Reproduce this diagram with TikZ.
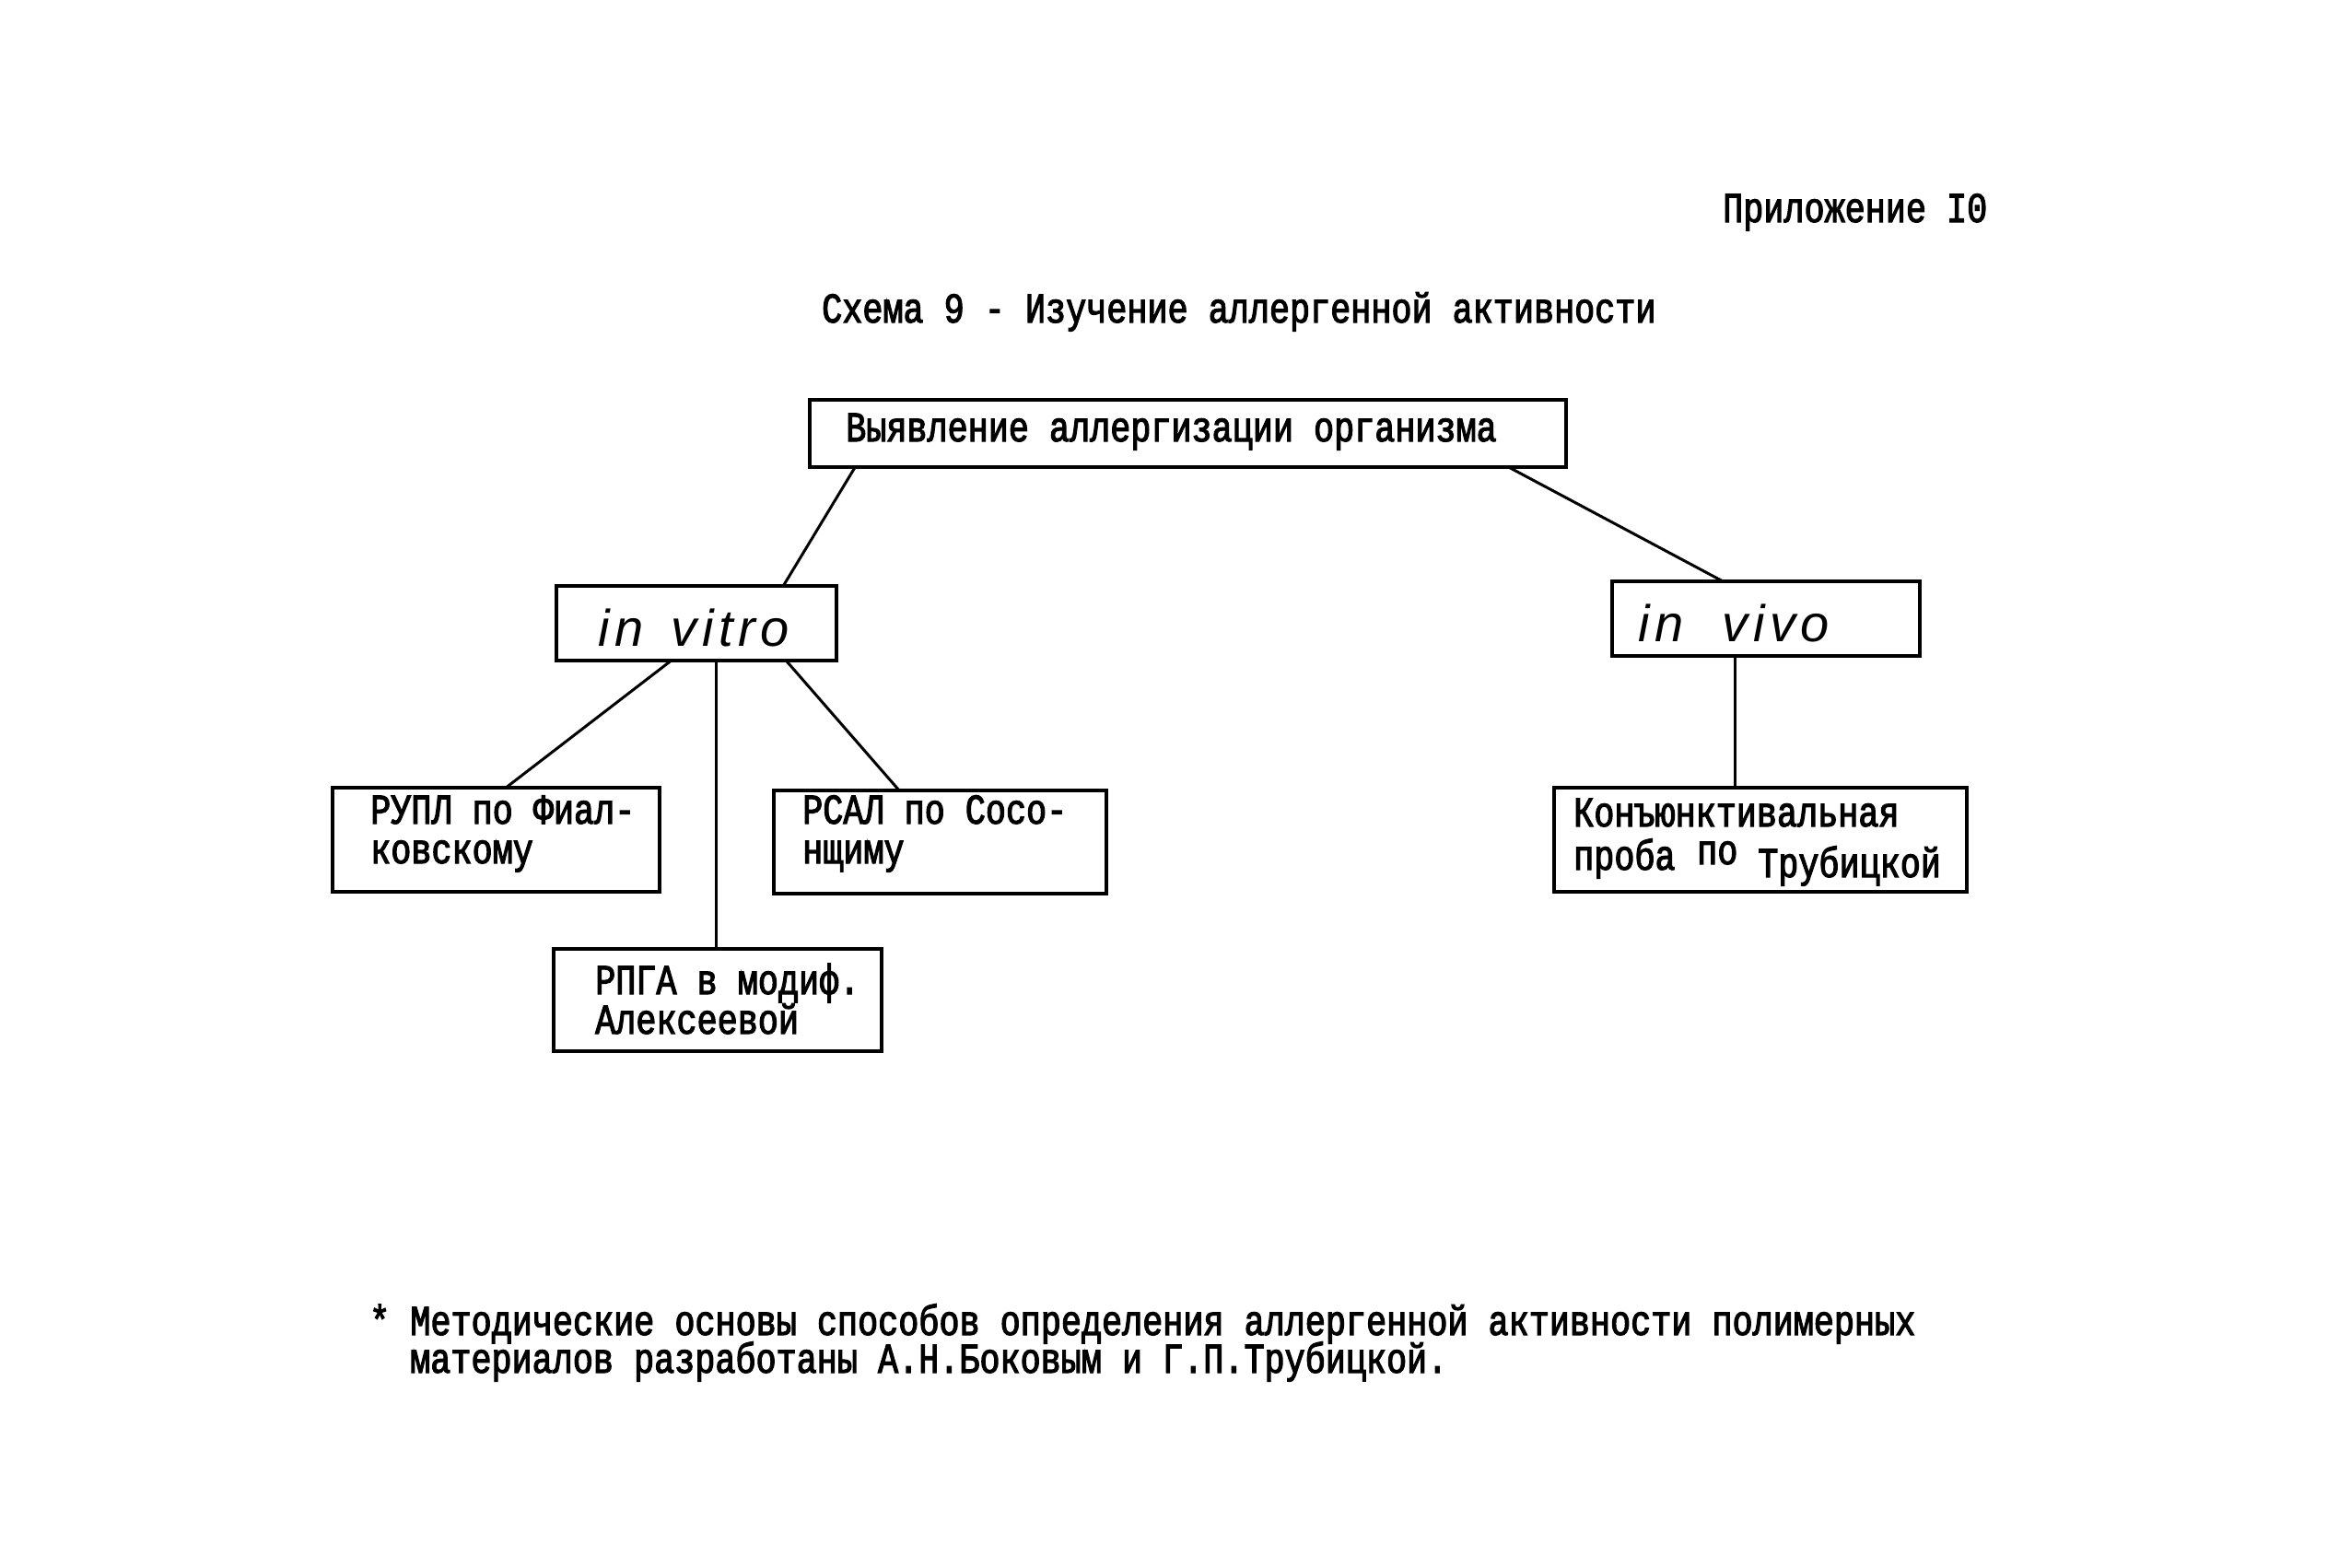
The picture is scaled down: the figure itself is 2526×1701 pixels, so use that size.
\documentclass[tikz,border=0pt]{standalone}
\usepackage{fontspec}
\setmainfont{Liberation Mono}[FakeStretch=0.8,FakeBold=2.5]
\newfontfamily\hand{Liberation Sans}[LetterSpace=10]
\usetikzlibrary{calc}
\begin{document}
\begin{tikzpicture}[x=1pt,y=-1pt,
  box/.style={draw,line width=3.5pt,rectangle,inner sep=0pt,outer sep=0pt},
  txt/.style={inner sep=0pt,anchor=base west,font=\fontsize{46}{37}\selectfont},
  hw/.style={inner sep=0pt,anchor=base west,font=\hand\itshape\fontsize{56}{56}\selectfont},
  link/.style={line width=3pt}]
\useasboundingbox (0,0) rectangle (2526,1701);
% boxes
\node[box,minimum width=821pt,minimum height=73pt] (top) at (1289.5,470.5) {};
\node[box,minimum width=304pt,minimum height=81pt] (vitro) at (756,676.5) {};
\node[box,minimum width=334pt,minimum height=81pt] (vivo) at (1917,671.5) {};
\node[box,minimum width=355pt,minimum height=113pt] (rupl) at (538.5,911.5) {};
\node[box,minimum width=361pt,minimum height=112pt] (rsal) at (1020.5,914) {};
\node[box,minimum width=356pt,minimum height=111pt] (rpga) at (779,1085.5) {};
\node[box,minimum width=448pt,minimum height=113pt] (konj) at (1911,911.5) {};
% texts
\node[txt] (app) at (1870,241) {Приложение I0};
\node[txt] (title) at (892,350) {Схема 9 - Изучение аллергенной активности};
\node[txt] (toptxt) at (918,479) {Выявление аллергизации организма};
\node[hw] (vitrotxt) at (649,701) {in\, vitro};
\node[hw] (vivotxt) at (1778,696) {in\ \ vivo};
\node[txt] (rupl1) at (402,894) {РУПЛ по Фиал-};
\node[txt] (rupl2) at (402,937) {ковскому};
\node[txt] (rsal1) at (871,894) {РСАЛ по Сосо-};
\node[txt] (rsal2) at (871,937) {нщиму};
\node[txt] (rpga1) at (646,1079) {РПГА в модиф.};
\node[txt] (rpga2) at (646,1122) {Алексеевой};
\node[txt] (konj1) at (1708,897) {Конъюнктивальная};
\node[txt] (konj2) at (1708,944) {проба};
\node[txt] (konj3) at (1842,938) {по};
\node[txt] (konj4) at (1908,952) {Трубицкой};
\node[txt] (foot1) at (401,1449) {* Методические основы способов определения аллергенной активности полимерных};
\node[txt] (foot2) at (445,1490) {материалов разработаны А.Н.Боковым и Г.П.Трубицкой.};
% connectors
\draw[link] ($(top.south west)!0.06!(top.south east)$) -- ($(vitro.north west)!0.81!(vitro.north east)$);
\draw[link] ($(top.south west)!0.924!(top.south east)$) -- ($(vivo.north west)!0.36!(vivo.north east)$);
\draw[link] ($(vitro.south west)!0.41!(vitro.south east)$) -- ($(rupl.north west)!0.53!(rupl.north east)$);
\draw[link] ($(vitro.south west)!0.82!(vitro.south east)$) -- ($(rsal.north west)!0.377!(rsal.north east)$);
\coordinate (vitroB) at ($(vitro.south west)!0.57!(vitro.south east)$);
\draw[link] (vitroB) -- (vitroB |- rpga.north);
\coordinate (vivoB) at ($(vivo.south west)!0.40!(vivo.south east)$);
\draw[link] (vivoB) -- (vivoB |- konj.north);
\end{tikzpicture}
\end{document}
